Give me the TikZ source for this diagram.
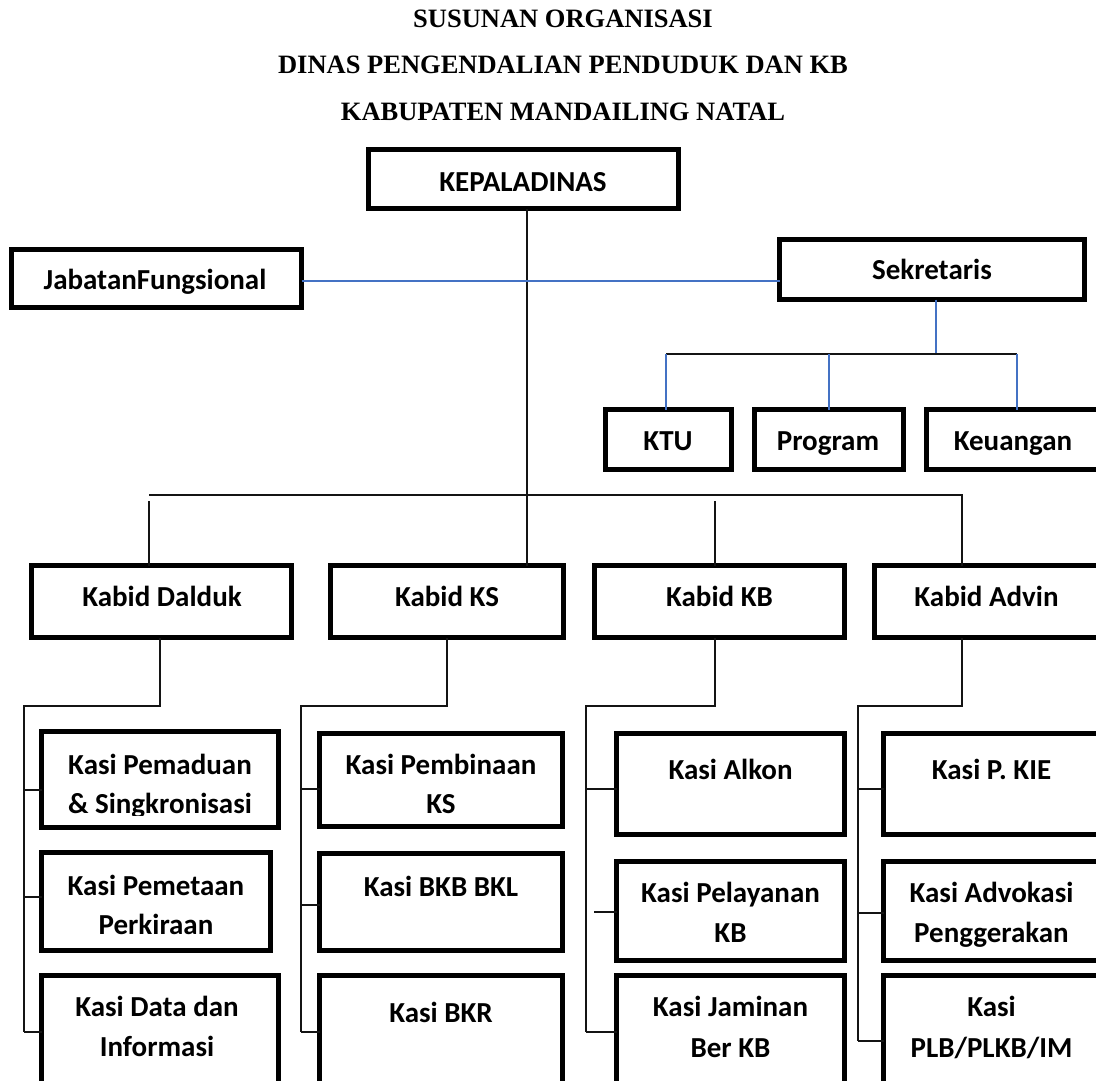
\documentclass[tikz,border=0pt]{standalone}
\usepackage{fontspec}
\newfontfamily\carl{Carlito}
\newfontfamily\tms{Liberation Serif}
\definecolor{conblue}{RGB}{68,114,196}
\definecolor{conblack}{RGB}{20,20,20}
\tikzset{
  box/.style={draw=black, line width=5pt, rectangle, inner sep=0pt, outer sep=0pt, fill=white},
  lbl/.style={anchor=base, inner sep=0pt, font=\carl\bfseries\fontsize{29}{35}\selectfont},
  ttl/.style={anchor=base, inner sep=0pt, font=\tms\bfseries\fontsize{26.5}{32}\selectfont},
  conn/.style={line width=1.3pt, draw=conblack},
  bconn/.style={line width=1.3pt, draw=conblue},
}
\begin{document}
\begin{tikzpicture}[x=1pt,y=-1pt]
\useasboundingbox (0,0) rectangle (1096,1080);
\clip (0,0) rectangle (1096,1080);

% ---------- title ----------
\node[ttl] (t1) at (563,27.8) {SUSUNAN ORGANISASI};
\node[ttl] (t2) at (563,73.8) {DINAS PENGENDALIAN PENDUDUK DAN KB};
\node[ttl] (t3) at (563,120.8) {KABUPATEN MANDAILING NATAL};

% ---------- boxes ----------
\node[box, minimum width=310pt, minimum height=59pt] (kepala) at (523.5,179) {};
\node[box, minimum width=290pt, minimum height=58pt] (jabatan) at (156.5,278.5) {};
\node[box, minimum width=305pt, minimum height=60pt] (sekretaris) at (932,269.5) {};
\node[box, minimum width=126pt, minimum height=60pt] (ktu) at (668.5,439.5) {};
\node[box, minimum width=149pt, minimum height=60pt] (program) at (829,439.5) {};
\node[box, minimum width=173pt, minimum height=60pt] (keuangan) at (1013,439.5) {};

\node[box, minimum width=260pt, minimum height=72pt] (dalduk) at (161.5,601.5) {};
\node[box, minimum width=233pt, minimum height=72pt] (kabks) at (447,601.5) {};
\node[box, minimum width=250pt, minimum height=72pt] (kabkb) at (719.5,601.5) {};
\node[box, minimum width=224pt, minimum height=72pt] (advin) at (986.5,601.5) {};

\node[box, minimum width=237pt, minimum height=96pt] (k11) at (160,779.5) {};
\node[box, minimum width=229pt, minimum height=98pt] (k12) at (156,901.5) {};
\node[box, minimum width=237pt, minimum height=122pt] (k13) at (160,1036.5) {};

\node[box, minimum width=243pt, minimum height=93pt] (k21) at (441,780) {};
\node[box, minimum width=243pt, minimum height=97pt] (k22) at (441,902) {};
\node[box, minimum width=243pt, minimum height=122pt] (k23) at (441,1036.5) {};

\node[box, minimum width=228pt, minimum height=101pt] (k31) at (730.5,784) {};
\node[box, minimum width=228pt, minimum height=99pt] (k32) at (730.5,911) {};
\node[box, minimum width=228pt, minimum height=122pt] (k33) at (730.5,1036.5) {};

\node[box, minimum width=215pt, minimum height=101pt] (k41) at (991,784) {};
\node[box, minimum width=215pt, minimum height=99pt] (k42) at (991,911) {};
\node[box, minimum width=215pt, minimum height=122pt] (k43) at (991,1036.5) {};

% ---------- connectors ----------
\coordinate (spx) at (527,0);
\draw[conn] (spx |- kepala.south) -- (spx |- kabks.north);

\coordinate (jy) at (0,281);
\draw[bconn] (jabatan.east |- jy) -- (sekretaris.west |- jy);

\coordinate (sx) at (936,354);
\coordinate (ktux) at (666,354);
\coordinate (prgx) at (829,354);
\coordinate (keux) at (1017,354);
\draw[bconn] (sx |- sekretaris.south) -- (sx);
\draw[conn] (ktux) -- (keux);
\draw[bconn] (ktux) -- (ktux |- ktu.north);
\draw[bconn] (prgx) -- (prgx |- program.north);
\draw[bconn] (keux) -- (keux |- keuangan.north);

\coordinate (busL) at (149,495);
\coordinate (busR) at (962,495);
\coordinate (dl) at (149,501);
\coordinate (kbl) at (715,501);
\draw[conn] (busL) -- (busR) -- (busR |- advin.north);
\draw[conn] (dl) -- (dl |- dalduk.north);
\draw[conn] (kbl) -- (kbl |- kabkb.north);

% Dalduk bracket
\coordinate (d1) at (160,706); \coordinate (d2) at (24,706); \coordinate (d3) at (24,1032);
\draw[conn] (d1 |- dalduk.south) -- (d1) -- (d2) -- (d3);
\coordinate (t11) at (24,790); \coordinate (t12) at (24,897);
\draw[conn] (t11) -- (t11 -| k11.west);
\draw[conn] (t12) -- (t12 -| k12.west);
\draw[conn] (d3) -- (d3 -| k13.west);

% KS bracket
\coordinate (s1) at (447,706); \coordinate (s2) at (301,706); \coordinate (s3) at (301,1032);
\draw[conn] (s1 |- kabks.south) -- (s1) -- (s2) -- (s3);
\coordinate (t21) at (301,789); \coordinate (t22) at (301,905);
\draw[conn] (t21) -- (t21 -| k21.west);
\draw[conn] (t22) -- (t22 -| k22.west);
\draw[conn] (s3) -- (s3 -| k23.west);

% KB bracket
\coordinate (b1) at (715,706); \coordinate (b2) at (586,706); \coordinate (b3) at (586,1032);
\draw[conn] (b1 |- kabkb.south) -- (b1) -- (b2) -- (b3);
\coordinate (t31) at (586,789); \coordinate (t32) at (594,912);
\draw[conn] (t31) -- (t31 -| k31.west);
\draw[conn] (t32) -- (t32 -| k32.west);
\draw[conn] (b3) -- (b3 -| k33.west);

% Advin bracket
\coordinate (a1) at (962,706); \coordinate (a2) at (858,706); \coordinate (a3) at (858,1041);
\draw[conn] (a1 |- advin.south) -- (a1) -- (a2) -- (a3);
\coordinate (t41) at (858,789); \coordinate (t42) at (858,913);
\draw[conn] (t41) -- (t41 -| k41.west);
\draw[conn] (t42) -- (t42 -| k42.west);
\draw[conn] (a3) -- (a3 -| k43.west);

% ---------- labels ----------
\node[lbl] (l-kepala) at (523,191.3) {KEPALADINAS};
\node[lbl] (l-jabatan) at (155,289.3) {JabatanFungsional};
\node[lbl] (l-sek) at (932,279.3) {Sekretaris};
\node[lbl] (l-ktu) at (668,450.3) {KTU};
\node[lbl] (l-prog) at (828,450.3) {Program};
\node[lbl] (l-keu) at (1013,450.3) {Keuangan};

\node[lbl] (l-dalduk) at (162,606.3) {Kabid Dalduk};
\node[lbl] (l-kabks) at (447,606.3) {Kabid KS};
\node[lbl] (l-kabkb) at (719.5,606.3) {Kabid KB};
\node[lbl] (l-advin) at (986.5,606.3) {Kabid Advin};

\node[lbl] (l-k11a) at (160,774.3) {Kasi Pemaduan};
\begin{scope}
  \clip (39,729) rectangle (281,815);
  \node[lbl] (l-k11b) at (160,813) {\& Singkronisasi};
\end{scope}
\node[lbl] (l-k12a) at (156,895.3) {Kasi Pemetaan};
\node[lbl] (l-k12b) at (156,934.3) {Perkiraan};
\node[lbl] (l-k13a) at (157,1016.3) {Kasi Data dan};
\node[lbl] (l-k13b) at (157,1056.3) {Informasi};

\node[lbl] (l-k21a) at (441,774.3) {Kasi Pembinaan};
\node[lbl] (l-k21b) at (441,813.3) {KS};
\node[lbl] (l-k22) at (441,896.3) {Kasi BKB BKL};
\node[lbl] (l-k23) at (441,1022.3) {Kasi BKR};

\node[lbl] (l-k31) at (730.5,779.3) {Kasi Alkon};
\node[lbl] (l-k32a) at (730.5,902.3) {Kasi Pelayanan};
\node[lbl] (l-k32b) at (730.5,942.3) {KB};
\node[lbl] (l-k33a) at (730.5,1016.3) {Kasi Jaminan};
\node[lbl] (l-k33b) at (730.5,1057.3) {Ber KB};

\node[lbl] (l-k41) at (991.5,779.3) {Kasi P. KIE};
\node[lbl] (l-k42a) at (991.5,902.3) {Kasi Advokasi};
\node[lbl] (l-k42b) at (991.5,942.3) {Penggerakan};
\node[lbl] (l-k43a) at (991.5,1016.3) {Kasi};
\node[lbl] (l-k43b) at (991.5,1057.3) {PLB/PLKB/IM};
\end{tikzpicture}
\end{document}
